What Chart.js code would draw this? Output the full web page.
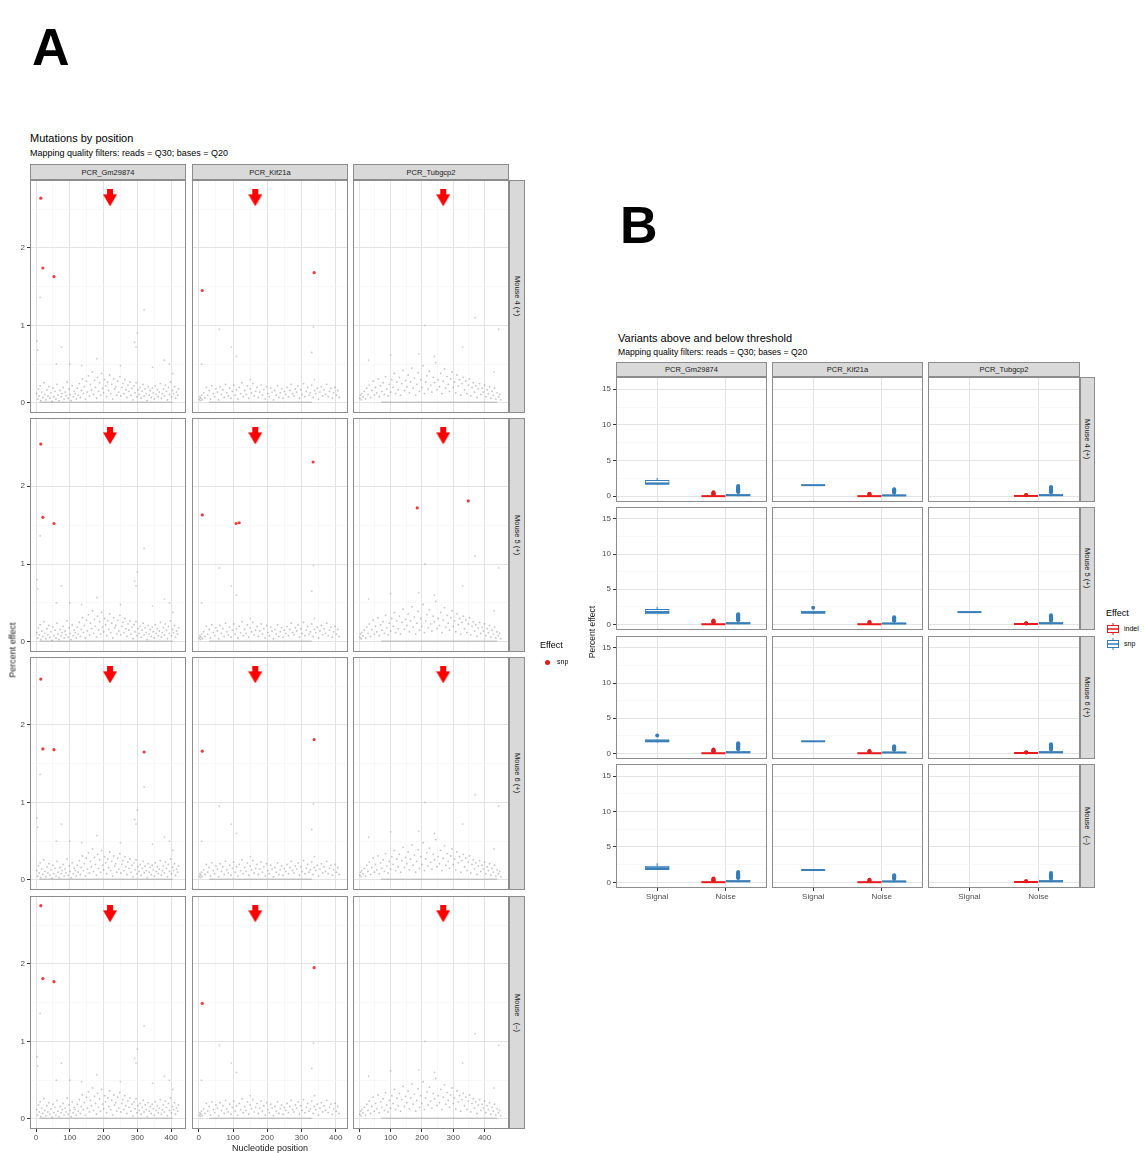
<!DOCTYPE html>
<html>
<head>
<meta charset="utf-8">
<script src="https://cdn.jsdelivr.net/npm/chart.js@4.4.1/dist/chart.umd.min.js"></script>
<style>
  body { margin: 0; background: #fff; font-family: "Liberation Sans", Arial, sans-serif; }
  #wrap { position: relative; width: 1144px; height: 1153px; overflow: hidden; }
  canvas { position: absolute; }
  .txt { position: absolute; white-space: pre; color: #000; }
  .strip { position: absolute; box-sizing: border-box; background: #d9d9d9; border: 1px solid #8c8c8c;
           color: #1a1a1a; font-size: 7.5px; display: flex; align-items: center; justify-content: center; white-space: pre; }
  .vstrip { writing-mode: vertical-rl; }
</style>
</head>
<body>
<div id="wrap"></div>
<script>
"use strict";

// ---------- data: panel A (mutations by position) ----------
const genes = ["PCR_Gm29874", "PCR_Kif21a", "PCR_Tubgcp2"];
const mice = ["Mouse 4 (+)", "Mouse 5 (+)", "Mouse 6 (+)", "Mouse   (\u2013)"];
const posTicks = [0, 100, 200, 300, 400];
const effectTicks = [0, 1, 2];
const arrowPos = [219, 165, 268];   // target site per gene
const arrowLevel = 2.645;

// snp hits, per gene, one list per mouse: [position, percent effect]
const snpGm = [
  [[14, 2.64], [20, 1.74], [53, 1.63]],
  [[14, 2.54], [20, 1.6], [53, 1.52]],
  [[14, 2.59], [20, 1.69], [53, 1.68], [320, 1.65]],
  [[14, 2.75], [20, 1.81], [53, 1.77]]
];
const snpKif = [
  [[10, 1.45], [337, 1.68]],
  [[10, 1.63], [109, 1.52], [118, 1.53], [334, 2.31]],
  [[10, 1.66], [337, 1.81]],
  [[10, 1.49], [337, 1.95]]
];
const snpTub = [[], [[185, 1.72], [348, 1.81]], [], []];

// background noise (below threshold), per gene
const noiseGm = [
  [2,0.12],[5,0.05],[7,0.18],[9,0.09],[12,0.22],[14,0.03],[17,0.14],[20,0.07],[23,0.26],[26,0.11],
  [29,0.04],[32,0.17],[35,0.09],[38,0.21],[41,0.06],[44,0.13],[47,0.02],[50,0.19],[53,0.08],[56,0.15],
  [59,0.05],[62,0.24],[65,0.1],[68,0.03],[71,0.16],[74,0.08],[77,0.12],[80,0.2],[83,0.05],[86,0.14],
  [89,0.09],[92,0.27],[95,0.06],[98,0.18],[101,0.11],[104,0.03],[107,0.22],[110,0.08],[113,0.15],[116,0.12],
  [119,0.05],[122,0.19],[125,0.1],[128,0.25],[131,0.07],[134,0.16],[137,0.31],[140,0.12],[143,0.21],[146,0.05],
  [149,0.28],[152,0.14],[155,0.35],[158,0.09],[161,0.24],[164,0.17],[167,0.4],[170,0.11],[173,0.29],[176,0.2],
  [179,0.06],[182,0.33],[185,0.15],[188,0.26],[191,0.1],[194,0.38],[197,0.19],[200,0.13],[203,0.3],[206,0.22],
  [209,0.08],[212,0.27],[215,0.16],[218,0.36],[221,0.12],[224,0.24],[227,0.05],[230,0.31],[233,0.18],[236,0.21],
  [239,0.1],[242,0.28],[245,0.14],[248,0.34],[251,0.09],[254,0.2],[257,0.25],[260,0.12],[263,0.3],[266,0.17],
  [269,0.07],[272,0.23],[275,0.15],[278,0.27],[281,0.1],[284,0.19],[287,0.04],[290,0.22],[293,0.13],[296,0.26],
  [299,0.08],[302,0.17],[305,0.11],[308,0.2],[311,0.06],[314,0.15],[317,0.24],[320,0.09],[323,0.18],[326,0.12],
  [329,0.03],[332,0.21],[335,0.1],[338,0.16],[341,0.07],[344,0.19],[347,0.13],[350,0.05],[353,0.22],[356,0.11],
  [359,0.17],[362,0.08],[365,0.14],[368,0.25],[371,0.06],[374,0.12],[377,0.18],[380,0.09],[383,0.23],[386,0.15],
  [389,0.04],[392,0.2],[395,0.11],[398,0.27],[401,0.08],[404,0.16],[407,0.12],[410,0.21],[413,0.06],[416,0.14],
  [419,0.1],[422,0.18]
];
const sparseGm = [[3,0.8],[5,0.68],[12,1.36],[60,0.5],[75,0.72],[100,0.5],[135,0.48],[180,0.57],[250,0.48],
  [292,0.78],[296,0.72],[300,0.9],[320,1.2],[345,0.46],[380,0.55],[395,0.5],[405,0.38]];
const baseGm = [[10, 0.01], [405, 0.01]];

const noiseKif = [
  [1,0.05],[3,0.08],[4,0.03],[6,0.06],[8,0.1],[10,0.04],
  [14,0.13],[18,0.07],[22,0.2],[26,0.1],[30,0.16],[34,0.05],[38,0.22],[42,0.12],[46,0.08],[50,0.18],
  [54,0.14],[58,0.04],[62,0.21],[66,0.11],[70,0.17],[74,0.07],[78,0.24],[82,0.13],[86,0.09],[90,0.19],
  [94,0.06],[98,0.15],[102,0.23],[106,0.1],[110,0.17],[114,0.05],[118,0.2],[122,0.12],[126,0.26],[130,0.08],
  [134,0.16],[138,0.11],[142,0.22],[146,0.06],[150,0.18],[154,0.13],[158,0.25],[162,0.09],[166,0.15],[170,0.2],
  [174,0.07],[178,0.14],[182,0.23],[186,0.1],[190,0.17],[194,0.05],[198,0.21],[202,0.12],[206,0.08],[210,0.19],
  [214,0.14],[218,0.04],[222,0.16],[226,0.1],[230,0.22],[234,0.07],[238,0.13],[242,0.18],[246,0.06],[250,0.15],
  [254,0.11],[258,0.2],[262,0.08],[266,0.16],[270,0.24],[274,0.12],[278,0.09],[282,0.18],[286,0.14],[290,0.22],
  [294,0.06],[298,0.17],[302,0.11],[306,0.25],[310,0.08],[314,0.15],[318,0.2],[322,0.1],[326,0.13],[330,0.23],
  [334,0.07],[338,0.16],[342,0.12],[346,0.19],[350,0.05],[354,0.14],[358,0.21],[362,0.09],[366,0.17],[370,0.11],
  [374,0.24],[378,0.08],[382,0.15],[386,0.19],[390,0.06],[394,0.13],[398,0.2],[402,0.1],[406,0.16],[410,0.07]
];
const sparseKif = [[8,0.5],[60,0.95],[95,0.72],[110,0.6],[150,0.3],[330,0.65],[335,0.98],[338,0.3]];
const baseKif = [[30, 0.01], [330, 0.01]];

const noiseTub = [
  [2,0.06],[4,0.1],[6,0.04],[8,0.12],
  [12,0.08],[16,0.15],[20,0.05],[24,0.19],[28,0.11],[32,0.23],[36,0.07],[40,0.16],[44,0.28],[48,0.1],
  [52,0.2],[56,0.13],[60,0.31],[64,0.08],[68,0.22],[72,0.15],[76,0.26],[80,0.11],[84,0.34],[88,0.18],
  [92,0.09],[96,0.24],[100,0.14],[104,0.3],[108,0.2],[112,0.38],[116,0.12],[120,0.27],[124,0.17],[128,0.33],
  [132,0.1],[136,0.25],[140,0.42],[144,0.16],[148,0.29],[152,0.21],[156,0.36],[160,0.13],[164,0.27],[168,0.45],
  [172,0.19],[176,0.32],[180,0.1],[184,0.24],[188,0.39],[192,0.15],[196,0.3],[200,0.2],[204,0.48],[208,0.12],
  [212,0.27],[216,0.35],[220,0.18],[224,0.41],[228,0.23],[232,0.14],[236,0.33],[240,0.26],[244,0.52],[248,0.17],
  [252,0.3],[256,0.21],[260,0.38],[264,0.12],[268,0.28],[272,0.44],[276,0.19],[280,0.34],[284,0.24],[288,0.15],
  [292,0.31],[296,0.4],[300,0.2],[304,0.27],[308,0.13],[312,0.36],[316,0.22],[320,0.3],[324,0.1],[328,0.25],
  [332,0.33],[336,0.17],[340,0.28],[344,0.12],[348,0.23],[352,0.31],[356,0.09],[360,0.2],[364,0.26],[368,0.14],
  [372,0.22],[376,0.07],[380,0.18],[384,0.25],[388,0.11],[392,0.19],[396,0.14],[400,0.23],[404,0.08],[408,0.17],
  [412,0.12],[416,0.21],[420,0.06],[424,0.15],[428,0.1],[432,0.19],[436,0.05],[440,0.13],[444,0.08],[448,0.11],[452,0.04]
];
const sparseTub = [[30,0.55],[100,0.62],[190,0.63],[210,1.0],[240,0.6],[330,0.72],[370,1.1],[430,0.4],[445,0.95]];
const baseTub = [[70, 0.01], [440, 0.01]];

// ---------- data: panel B (variants above and below threshold) ----------
const sides = ["Signal", "Noise"];
const effectTicksB = [0, 5, 10, 15];
// signal snp boxes per mouse: [lower, q1, median, q3, upper]
const signalGm = [[1.6,1.65,1.8,2.25,2.55], [1.45,1.5,1.75,2.15,2.5], [1.55,1.6,1.75,1.95,2.0], [1.75,1.8,2.0,2.3,2.7]];
const signalGmOut = [[], [], [2.55], []];
const signalKif = [[1.56,1.56,1.56,1.56,1.56], [1.5,1.55,1.7,1.9,1.95], [1.72,1.72,1.72,1.72,1.72], [1.74,1.74,1.74,1.74,1.74]];
const signalKifOut = [[], [2.35], [], []];
const signalTub = [null, [1.75,1.75,1.75,1.75,1.75], null, null];
const signalTubOut = [[], [], [], []];
// noise boxes per gene
const indelNoise = [[0,0,0.02,0.07,0.15], [0,0,0.02,0.06,0.12], [0,0.02,0.05,0.08,0.12]];
const indelOut = [[0.22,0.3,0.38,0.46,0.55], [0.2,0.28,0.35], [0.14,0.17]];
const snpNoise = [[0,0.08,0.15,0.28,0.5], [0,0.06,0.12,0.22,0.4], [0,0.08,0.15,0.28,0.5]];
const snpOut = [[0.6,0.7,0.8,0.9,1.0,1.1,1.2,1.3,1.45], [0.5,0.6,0.7,0.8,0.9,1.0], [0.55,0.65,0.75,0.85,0.95,1.05,1.15,1.3]];

// ---------- layout ----------
const wrap = document.getElementById("wrap");
const FONT = "'Liberation Sans', Arial, sans-serif";
const RED = "#e41a1c", BLUE = "#377eb8";

const colsA = [[30, 156], [192, 156], [353, 156]];
const rowsA = [[180, 233], [418, 234], [657, 233], [896, 233]];
const xRangeA = [[-18, 444], [-20, 436], [-20, 478]];
const colsB = [[616, 151], [772, 151], [928, 152]];
const rowsB = [[377, 125], [507, 123], [636, 123], [764, 124]];

let text = (str, x, y, size, opts = {}) => {
  let d = document.createElement("div");
  d.className = "txt";
  d.textContent = str;
  d.style.fontSize = size + "px";
  d.style.lineHeight = (opts.lh || size) + "px";
  d.style.left = x + "px";
  d.style.top = y + "px";
  if (opts.bold) d.style.fontWeight = "bold";
  if (opts.color) d.style.color = opts.color;
  if (opts.rotate) d.style.transform = "translate(-50%,-50%) rotate(-90deg)";
  if (opts.center) d.style.transform = "translate(-50%,-50%)";
  wrap.appendChild(d);
  return d;
};

let strip = (str, x, y, w, h, vertical) => {
  let d = document.createElement("div");
  d.className = vertical ? "strip vstrip" : "strip";
  d.textContent = str;
  Object.assign(d.style, { left: x + "px", top: y + "px", width: w + "px", height: h + "px" });
  wrap.appendChild(d);
};

let addCanvas = (x, y, w, h) => {
  let c = document.createElement("canvas");
  c.width = w; c.height = h;
  c.style.left = x + "px"; c.style.top = y + "px";
  wrap.appendChild(c);
  return c;
};

// red arrow used as point style
function makeArrow() {
  let c = document.createElement("canvas");
  c.width = 14; c.height = 17;
  let g = c.getContext("2d");
  g.fillStyle = "#ff0000";
  g.beginPath();
  g.moveTo(4, 0); g.lineTo(10, 0); g.lineTo(10, 5); g.lineTo(14, 5);
  g.lineTo(7, 17); g.lineTo(0, 5); g.lineTo(4, 5);
  g.closePath(); g.fill();
  return c;
}
const arrowImg = makeArrow();

const panelBorder = {
  id: "panelBorder",
  afterDraw(chart) {
    let a = chart.chartArea, c = chart.ctx;
    c.save();
    c.strokeStyle = "#8c8c8c";
    c.lineWidth = 1;
    c.strokeRect(a.left + 0.5, a.top + 0.5, a.right - a.left - 1, a.bottom - a.top - 1);
    c.restore();
  }
};

let fitTo = (size, horizontal) => s => {
  if (horizontal) s.height = size; else s.width = size;
  s.paddingLeft = s.paddingRight = s.paddingTop = s.paddingBottom = 0;
};

let gridOpts = (isMajor, drawTicks) => ({
  color: ctx => isMajor(ctx.tick.value) ? "#e3e3e3" : "#f3f3f3",
  lineWidth: ctx => isMajor(ctx.tick.value) ? 1 : 0.6,
  drawTicks: drawTicks,
  tickLength: 3,
  tickColor: ctx => isMajor(ctx.tick.value) ? "#333" : "rgba(0,0,0,0)"
});

let pts = arr => arr.map(p => ({ x: p[0], y: p[1] }));

// ---------- panel A ----------
const noiseA = [noiseGm, noiseKif, noiseTub];
const sparseA = [sparseGm, sparseKif, sparseTub];
const baseA = [baseGm, baseKif, baseTub];
const snpA = [snpGm, snpKif, snpTub];

function scatterPanel(ci, ri) {
  let [left, w] = colsA[ci], [top, h] = rowsA[ri];
  let yW = ci === 0 ? 30 : 0, xH = ri === 3 ? 16 : 0;
  let cv = addCanvas(left - yW, top, w + yW, h + xH);
  let xMajor = v => v % 100 === 0, yMajor = v => Number.isInteger(v);
  new Chart(cv, {
    type: "scatter",
    data: {
      datasets: [
        { data: [{ x: arrowPos[ci], y: arrowLevel }], pointStyle: arrowImg, order: 0 },
        { data: pts(snpA[ci][ri]), pointRadius: 1.6, backgroundColor: "rgba(228,26,28,0.85)", borderWidth: 0, order: 1 },
        { data: pts(sparseA[ci]), pointRadius: 0.9, backgroundColor: "rgba(120,120,120,0.35)", borderWidth: 0, order: 2 },
        { data: pts(noiseA[ci]), pointRadius: 0.9, backgroundColor: "rgba(110,110,110,0.4)", borderWidth: 0, order: 3 },
        { data: pts(baseA[ci]), showLine: true, pointRadius: 0, borderColor: "rgba(130,130,130,0.55)", borderWidth: 1, order: 4 }
      ]
    },
    options: {
      responsive: false, animation: false, devicePixelRatio: 1,
      layout: { padding: 0, autoPadding: false },
      plugins: { legend: { display: false }, tooltip: { enabled: false } },
      scales: {
        x: {
          type: "linear", min: xRangeA[ci][0], max: xRangeA[ci][1], bounds: "data",
          afterBuildTicks: s => { s.ticks = [0, 50, 100, 150, 200, 250, 300, 350, 400].map(v => ({ value: v })); },
          afterFit: fitTo(xH, true),
          ticks: { display: ri === 3, autoSkip: false, maxRotation: 0, padding: 1, color: "#4d4d4d",
                   font: { family: FONT, size: 8 }, callback: v => posTicks.includes(v) ? String(v) : "" },
          grid: gridOpts(xMajor, ri === 3),
          border: { display: false }
        },
        y: {
          type: "linear", min: -0.13, max: 2.875, bounds: "data",
          afterBuildTicks: s => { s.ticks = [0, 0.5, 1, 1.5, 2, 2.5].map(v => ({ value: v })); },
          afterFit: fitTo(yW, false),
          ticks: { display: ci === 0, autoSkip: false, padding: 2, color: "#4d4d4d",
                   font: { family: FONT, size: 8 }, callback: v => effectTicks.includes(v) ? String(v) : "" },
          grid: gridOpts(yMajor, ci === 0),
          border: { display: false }
        }
      }
    },
    plugins: [panelBorder]
  });
}

// ---------- panel B ----------
const signalB = [signalGm, signalKif, signalTub];
const signalOutB = [signalGmOut, signalKifOut, signalTubOut];

function boxDatasets(x, s, outliers, color) {
  return [
    { type: "scatter", data: [{ x: x, y: s[0] }, { x: x, y: s[4] }], showLine: true, pointRadius: 0,
      borderColor: color, borderWidth: 1, order: 5 },
    { type: "bar", data: [{ x: x, y: [s[1], s[3]] }], grouped: false, barThickness: 24,
      backgroundColor: "#ffffff", borderColor: color, borderWidth: 1, borderSkipped: false, order: 4 },
    { type: "scatter", data: [{ x: x, y: s[2] }], pointStyle: "line", pointRadius: 12,
      pointBorderColor: color, pointBorderWidth: 2, order: 3 },
    { type: "scatter", data: outliers.map(v => ({ x: x, y: v })), pointRadius: 2,
      backgroundColor: color, borderWidth: 0, order: 2 }
  ];
}

function boxPanel(ci, ri) {
  let [left, w] = colsB[ci], [top, h] = rowsB[ri];
  let yW = ci === 0 ? 28 : 0, xH = ri === 3 ? 14 : 0;
  let cv = addCanvas(left - yW, top, w + yW, h + xH);
  let ds = [];
  let sig = signalB[ci][ri];
  if (sig) ds = ds.concat(boxDatasets(1, sig, signalOutB[ci][ri], BLUE));
  ds = ds.concat(boxDatasets(1.82, indelNoise[ci], indelOut[ci], RED));
  ds = ds.concat(boxDatasets(2.18, snpNoise[ci], snpOut[ci], BLUE));
  new Chart(cv, {
    type: "scatter",
    data: { datasets: ds },
    options: {
      responsive: false, animation: false, devicePixelRatio: 1,
      layout: { padding: 0, autoPadding: false },
      plugins: { legend: { display: false }, tooltip: { enabled: false } },
      scales: {
        x: {
          type: "linear", min: 0.4, max: 2.6, bounds: "data", offset: false,
          afterBuildTicks: s => { s.ticks = [1, 2].map(v => ({ value: v })); },
          afterFit: fitTo(xH, true),
          ticks: { display: ri === 3, autoSkip: false, maxRotation: 0, padding: 1, color: "#4d4d4d",
                   font: { family: FONT, size: 8 }, callback: v => sides[v - 1] },
          grid: Object.assign(gridOpts(() => true, ri === 3), { offset: false }),
          border: { display: false }
        },
        y: {
          type: "linear", min: -0.8, max: 16.7, bounds: "data",
          afterBuildTicks: s => { s.ticks = [0, 2.5, 5, 7.5, 10, 12.5, 15].map(v => ({ value: v })); },
          afterFit: fitTo(yW, false),
          ticks: { display: ci === 0, autoSkip: false, padding: 2, color: "#4d4d4d",
                   font: { family: FONT, size: 8 }, callback: v => effectTicksB.includes(v) ? String(v) : "" },
          grid: gridOpts(v => v % 5 === 0, ci === 0),
          border: { display: false }
        }
      }
    },
    plugins: [panelBorder]
  });
}

// ---------- build ----------
text("A", 32, 21, 52, { bold: true, lh: 52 });
text("B", 620, 199, 52, { bold: true, lh: 52 });

text("Mutations by position", 30, 132, 11, { lh: 12 });
text("Mapping quality filters: reads = Q30; bases = Q20", 30, 148, 9, { lh: 10 });
text("Variants above and below threshold", 618, 332, 11, { lh: 12 });
text("Mapping quality filters: reads = Q30; bases = Q20", 618, 347, 8.6, { lh: 10 });

for (let ci = 0; ci < 3; ci++) {
  strip(genes[ci], colsA[ci][0], 164, colsA[ci][1], 16, false);
  strip(genes[ci], colsB[ci][0], 362, colsB[ci][1], 15, false);
  for (let ri = 0; ri < 4; ri++) {
    scatterPanel(ci, ri);
    boxPanel(ci, ri);
  }
}
for (let ri = 0; ri < 4; ri++) {
  strip(mice[ri], 509, rowsA[ri][0], 16, rowsA[ri][1], true);
  strip(mice[ri], 1080, rowsB[ri][0], 15, rowsB[ri][1], true);
}

text("Percent effect", 13, 650, 9, { rotate: true, color: "#1a1a1a" });
text("Nucleotide position", 270, 1148, 9, { center: true, color: "#1a1a1a" });
text("Percent effect", 592, 632, 8.5, { rotate: true, color: "#1a1a1a" });

// legends
text("Effect", 540, 640, 9, { lh: 10 });
let dot = document.createElement("div");
Object.assign(dot.style, { position: "absolute", left: "545px", top: "660px", width: "5px", height: "5px",
  borderRadius: "50%", background: RED });
wrap.appendChild(dot);
text("snp", 557, 658, 7, { lh: 8 });

text("Effect", 1106, 608, 9, { lh: 10 });
let glyph = (color, y) => {
  let svg = document.createElementNS("http://www.w3.org/2000/svg", "svg");
  svg.setAttribute("width", "14"); svg.setAttribute("height", "12");
  svg.style.position = "absolute"; svg.style.left = "1106px"; svg.style.top = y + "px";
  svg.innerHTML = `<line x1="7" y1="0" x2="7" y2="12" stroke="${color}" stroke-width="1"/>` +
    `<rect x="1.5" y="2.5" width="11" height="7" fill="#fff" stroke="${color}" stroke-width="1"/>` +
    `<line x1="1.5" y1="6" x2="12.5" y2="6" stroke="${color}" stroke-width="1.5"/>`;
  wrap.appendChild(svg);
};
glyph(RED, 623);
glyph(BLUE, 638);
text("indel", 1124, 625, 7, { lh: 8 });
text("snp", 1124, 640, 7, { lh: 8 });
</script>
</body>
</html>
